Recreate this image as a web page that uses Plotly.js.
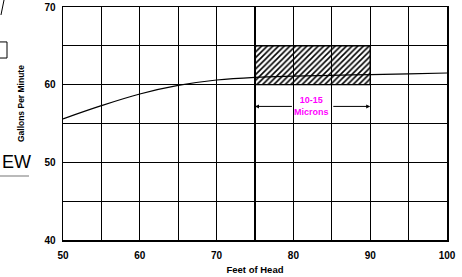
<!DOCTYPE html>
<html>
<head>
<meta charset="utf-8">
<script src="https://cdn.plot.ly/plotly-3.0.1.min.js"></script>
<style>html,body{margin:0;padding:0;background:#fff;}#chart{width:462px;height:277px;}</style>
</head>
<body>
<div id="chart"></div>
<script>
// Data
const headFeet = [50, 55, 60, 65, 70, 75, 80, 85, 90, 95, 100];
const gpm = [55.6, 57.3, 58.8, 59.9, 60.6, 60.95, 61.1, 61.2, 61.3, 61.4, 61.5];
const bandX = [75, 90];        // filtration band, feet of head
const bandY = [60, 65];        // filtration band, gpm
const bandLabel = "10-15<br>Microns";
const arrowY = 57.2;
const xTickVals = [50, 60, 70, 80, 90, 100];
const yTickVals = [40, 50, 60, 70];

const FAM = "Liberation Sans, Arial, sans-serif";
const tickFont = {family: FAM, size: 10, color: "#000", weight: "bold"};
const titleFont = {family: FAM, size: 9.5, color: "#000", weight: "bold"};

const mid = (bandX[0] + bandX[1]) / 2;
const band = {
  type: "bar",
  x: [mid], width: [bandX[1] - bandX[0]],
  base: [bandY[0]], y: [bandY[1] - bandY[0]],
  marker: {
    color: "rgba(0,0,0,0)",
    line: {color: "#000", width: 1.3},
    pattern: {shape: "/", size: 4, solidity: 0.4, fgcolor: "#000", bgcolor: "rgba(0,0,0,0)"}
  },
  hoverinfo: "skip", showlegend: false
};
const curve = {
  x: headFeet, y: gpm, mode: "lines",
  line: {color: "#000", width: 1.2, shape: "spline", smoothing: 1},
  showlegend: false
};

const layout = {
  width: 462, height: 277,
  margin: {l: 63, r: 15, t: 7, b: 37},
  paper_bgcolor: "#fff", plot_bgcolor: "#fff",
  showlegend: false,
  xaxis: {
    range: [50, 100], tickvals: xTickVals, ticks: "", tickfont: tickFont,
    showgrid: true, gridcolor: "#000", gridwidth: 1.3,
    minor: {dtick: 5, showgrid: true, gridcolor: "#000", gridwidth: 1.3},
    showline: true, linecolor: "#000", linewidth: 1.5, mirror: true,
    zeroline: false, ticklabelstandoff: 5,
    title: {text: "Feet of Head", font: titleFont, standoff: 7}
  },
  yaxis: {
    range: [40, 70], tickvals: yTickVals, ticks: "", tickfont: tickFont,
    showgrid: true, gridcolor: "#000", gridwidth: 1.3,
    minor: {dtick: 5, showgrid: true, gridcolor: "#000", gridwidth: 1.3},
    showline: true, linecolor: "#000", linewidth: 1.5, mirror: true,
    zeroline: false, ticklabelstandoff: 4
  },
  annotations: [
    {text: "Gallons Per Minute", xref: "paper", yref: "paper", x: -0.109, y: 0.584,
     xanchor: "center", yanchor: "middle",
     textangle: -90, showarrow: false, font: {family: FAM, size: 8.5, color: "#000", weight: "bold"}},
    {text: "", x: bandX[0], y: arrowY, ax: 80, ay: arrowY, axref: "x", ayref: "y",
     showarrow: true, arrowhead: 2, arrowsize: 0.8, arrowwidth: 1, arrowcolor: "#000"},
    {text: "", x: bandX[1], y: arrowY, ax: 85, ay: arrowY, axref: "x", ayref: "y",
     showarrow: true, arrowhead: 2, arrowsize: 0.8, arrowwidth: 1, arrowcolor: "#000"},
    {text: bandLabel, x: mid - 0.2, y: arrowY, showarrow: false,
     xanchor: "center", yanchor: "middle",
     font: {family: FAM, size: 9, color: "#FF00FF", weight: "bold"}},
    {text: "EW", xref: "paper", yref: "paper", x: -0.1625, y: 0.335, showarrow: false,
     xanchor: "left", yanchor: "middle", borderpad: 0,
     font: {family: FAM, size: 18, color: "#000"}}
  ],
  shapes: [
    {type: "line", xref: "paper", yref: "paper", x0: -0.1536, y0: 1.03, x1: -0.1615, y1: 0.9657,
     line: {color: "#000", width: 1}},
    {type: "rect", xref: "paper", yref: "paper", x0: -0.177, y0: 0.781, x1: -0.1458, y1: 0.850,
     line: {color: "#000", width: 1}},
    {type: "line", xref: "paper", yref: "paper", x0: -0.17, y0: 0.2747, x1: -0.0885, y1: 0.2747,
     line: {color: "#777", width: 1.2}}
  ]
};

Plotly.newPlot("chart", [band, curve], layout, {staticPlot: true, displayModeBar: false});
</script>
</body>
</html>
